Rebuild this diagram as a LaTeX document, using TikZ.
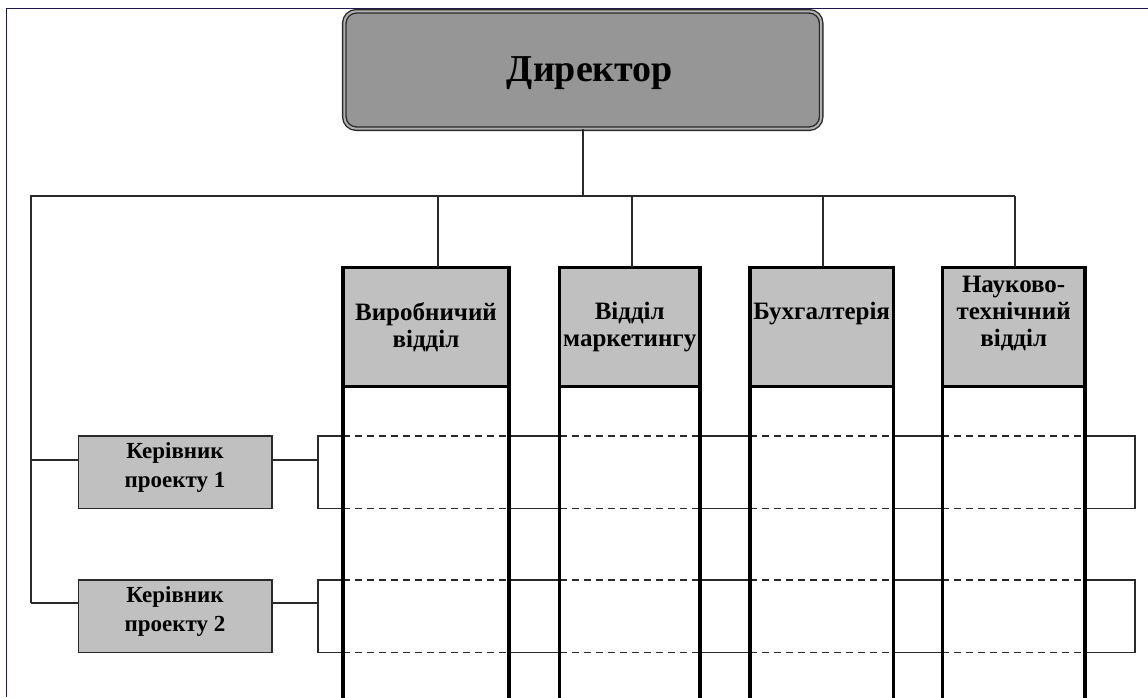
\documentclass[tikz,border=0pt]{standalone}
\usepackage{fontspec}
\setmainfont{Liberation Serif}
\definecolor{dirgray}{HTML}{969696}
\definecolor{boxgray}{HTML}{C0C0C0}
\definecolor{framecol}{HTML}{1C1850}
\definecolor{inkgray}{HTML}{2A2A2A}
\begin{document}
\begin{tikzpicture}[x=1pt,y=-1pt,
  link/.style={draw=inkgray, line width=1.6pt},
  framestyle/.style={draw=framecol, line width=1pt},
  headbox/.style={draw=black, line width=3.3pt, fill=boxgray, minimum height=119.4pt,
    inner sep=0pt, outer sep=0pt},
  headtext/.style={align=center, inner sep=0pt, font=\fontsize{25}{27}\selectfont\bfseries},
  mgrbox/.style={draw=inkgray, line width=1.6pt, fill=boxgray, minimum width=193.4pt,
    minimum height=72.6pt, inner sep=0pt, outer sep=0pt},
  mgrtext/.style={align=center, inner sep=0pt, font=\fontsize{23}{29}\selectfont\bfseries},
  rowbox/.style={draw=inkgray, line width=1.6pt, minimum width=817pt, minimum height=72.6pt,
    inner sep=0pt, outer sep=0pt},
  lane/.style={draw=inkgray, line width=1.6pt, dash pattern=on 7pt off 5pt},
  colside/.style={draw=black, line width=3.3pt},
  dirbox/.style={draw=inkgray, line width=1.4pt, double=dirgray!75!white, double distance=2pt,
    fill=dirgray, rounded corners=12pt, minimum width=476.9pt, minimum height=117.4pt,
    inner sep=0pt},
  dirtext/.style={inner sep=0pt, font=\fontsize{38}{40}\selectfont\bfseries}]

\useasboundingbox (0,0) rectangle (1148,697);

% page frame
\draw[framestyle] (6.3,697) -- (6.3,8.3) -- (1148,8.3);

% project rows crossing the departments
\node[rowbox] (r1) at (726.5,472) {};
\node[rowbox] (r2) at (726.5,616) {};

% department headers
\node[headbox, minimum width=166pt]   (d1) at (426,327) {};
\node[headbox, minimum width=140.5pt] (d2) at (629.75,327) {};
\node[headbox, minimum width=143.3pt] (d3) at (821.65,327) {};
\node[headbox, minimum width=142.7pt] (d4) at (1013.65,327) {};

% department columns: white body, dashed lanes, thick sides
\foreach \d in {d1,d2,d3,d4}{
  \fill[white] ([yshift=-1.65pt]\d.south west) rectangle ([yshift=-340pt]\d.south east);
  \foreach \r in {r1,r2}{
    \draw[lane] (\d.west |- \r.north) -- (\d.east |- \r.north);
    \draw[lane] (\d.west |- \r.south) -- (\d.east |- \r.south);
  }
  \draw[colside] (\d.south west) -- ([yshift=-340pt]\d.south west);
  \draw[colside] (\d.south east) -- ([yshift=-340pt]\d.south east);
}

% header texts
\node[headtext] (h1) at (426,327) {Виробничий\\відділ};
\node[headtext] (h2) at (629.75,327) {Відділ\\маркетингу};
\node[headtext] (h3) at (821.65,314) {Бухгалтерія};
\node[headtext] (h4) at (1013.65,313) {Науково-\\технічний\\відділ};

% director
\node[dirbox] (dir) at (582.75,70) {};
\node[dirtext] (dirt) at (590,73) {Директор};

% project managers
\node[mgrbox] (m1) at (175,472) {};
\node[mgrbox] (m2) at (175,616) {};
\node[mgrtext] (m1t) at (175,467) {Керівник\\проекту 1};
\node[mgrtext] (m2t) at (175,611) {Керівник\\проекту 2};

% connectors
\coordinate (bl) at (31,196);
\coordinate (t1) at (438,196);
\coordinate (t2) at (632,196);
\coordinate (t3) at (823,196);
\coordinate (t4) at (1015,196);
\coordinate (j1) at (31,460);
\coordinate (j2) at (31,603);

\draw[link] (dir.south) -- (dir.south |- bl);
\draw[link] (t4) -- (bl) -- (j2);
\draw[link] (t1) -- (t1 |- d1.north);
\draw[link] (t2) -- (t2 |- d2.north);
\draw[link] (t3) -- (t3 |- d3.north);
\draw[link] (t4) -- (t4 |- d4.north);
\draw[link] (j1) -- (j1 -| m1.west);
\draw[link] (j2) -- (j2 -| m2.west);
\draw[link] (m1.east |- j1) -- (r1.west |- j1);
\draw[link] (m2.east |- j2) -- (r2.west |- j2);
\end{tikzpicture}
\end{document}
